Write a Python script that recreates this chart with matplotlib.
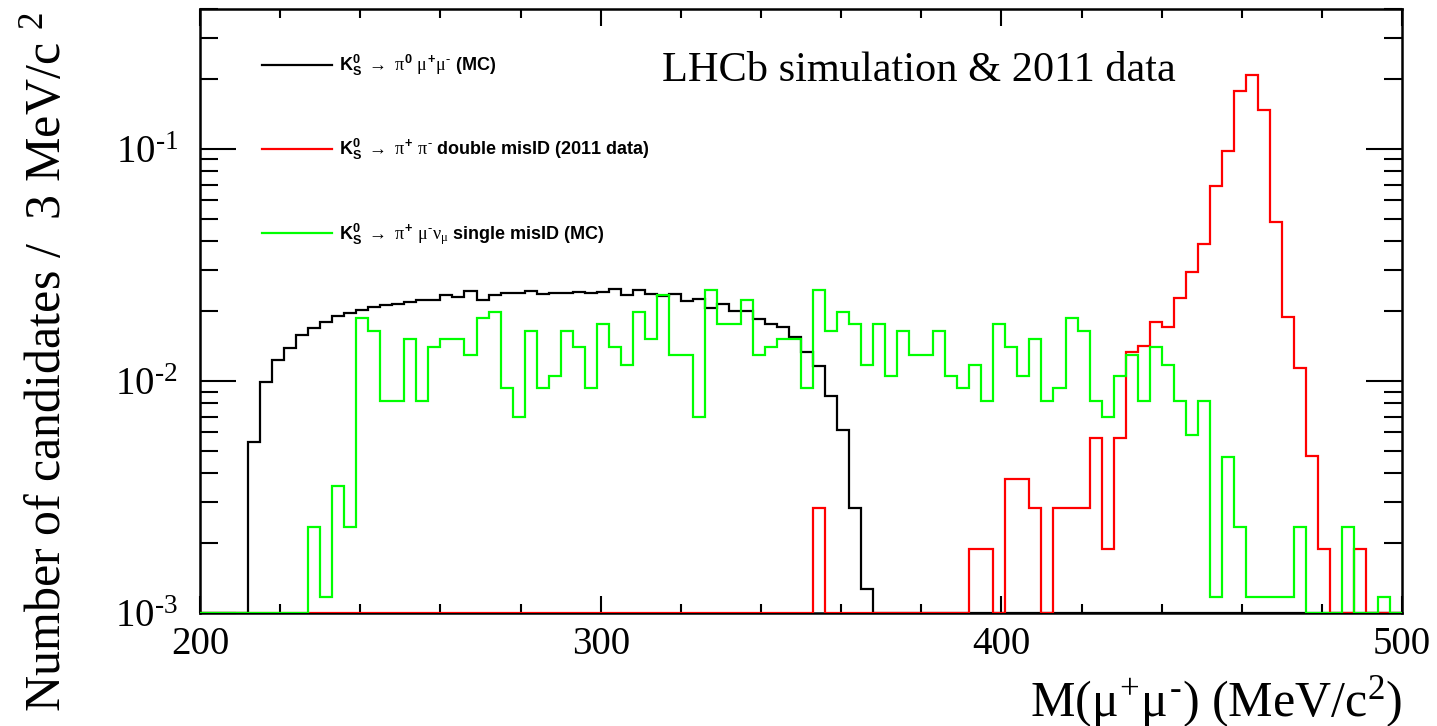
import numpy as np
import matplotlib
matplotlib.use('Agg')
from matplotlib.figure import Figure
from matplotlib.ticker import (FixedLocator, LogLocator, NullFormatter,
                               MultipleLocator, FuncFormatter)

# 3 MeV bins from 200 to 500 MeV/c^2
bin_edges = np.arange(200, 503, 3)
x_major = [200, 300, 400, 500]

# K0S -> pi0 mu+ mu- (MC)
k0_pi0mumu = [
    0, 0, 0, 0, 0.00545, 0.0099, 0.0123, 0.0139, 0.0157, 0.0169,
    0.0180, 0.0191, 0.0197, 0.0203, 0.0208, 0.0212, 0.0214, 0.0219, 0.0224, 0.0222,
    0.0235, 0.0230, 0.0244, 0.0224, 0.0235, 0.0240, 0.0239, 0.0245, 0.0237, 0.0239,
    0.0240, 0.0242, 0.0239, 0.0242, 0.0249, 0.0235, 0.0247, 0.0237, 0.0233, 0.0237,
    0.0221, 0.0225, 0.0207, 0.0215, 0.0201, 0.0201, 0.0185, 0.0176, 0.0171, 0.0155,
    0.0133, 0.0116, 0.00858, 0.00615, 0.00284, 0.00127, 0, 0, 0, 0,
    0, 0, 0, 0, 0, 0, 0, 0, 0, 0,
    0, 0, 0, 0, 0, 0, 0, 0, 0, 0,
    0, 0, 0, 0, 0, 0, 0, 0, 0, 0,
    0, 0, 0, 0, 0, 0, 0, 0, 0, 0,
]

# K0S -> pi+ pi- double misID (2011 data)
k0_pipi = [
    0, 0, 0, 0, 0, 0, 0, 0, 0, 0,
    0, 0, 0, 0, 0, 0, 0, 0, 0, 0,
    0, 0, 0, 0, 0, 0, 0, 0, 0, 0,
    0, 0, 0, 0, 0, 0, 0, 0, 0, 0,
    0, 0, 0, 0, 0, 0, 0, 0, 0, 0,
    0, 0.00284, 0, 0, 0, 0, 0, 0, 0, 0,
    0, 0, 0, 0, 0.00189, 0.00189, 0, 0.00379, 0.00379, 0.00284,
    0, 0.00284, 0.00284, 0.00284, 0.00568, 0.00189, 0.00568, 0.01326, 0.0142, 0.0180,
    0.01705, 0.0227, 0.0294, 0.0388, 0.0691, 0.0975, 0.178, 0.207, 0.147, 0.0483,
    0.0189, 0.01136, 0.00473, 0.00189, 0, 0, 0.00189, 0, 0, 0,
]

# K0S -> pi+ mu- nu single misID (MC)
k0_pimunu = [
    0, 0, 0, 0, 0, 0, 0, 0, 0, 0.00234,
    0.00117, 0.00351, 0.00234, 0.01872, 0.01638, 0.00819, 0.00819, 0.01521, 0.00819, 0.01404,
    0.01521, 0.01521, 0.01287, 0.01872, 0.01989, 0.00936, 0.00702, 0.01638, 0.00936, 0.01053,
    0.01638, 0.01404, 0.00936, 0.01755, 0.01404, 0.0117, 0.01989, 0.01521, 0.0234, 0.01287,
    0.01287, 0.00702, 0.02457, 0.01755, 0.01755, 0.02223, 0.01287, 0.01404, 0.01521, 0.01521,
    0.00936, 0.02457, 0.01638, 0.01989, 0.01755, 0.0117, 0.01755, 0.01053, 0.01638, 0.01287,
    0.01287, 0.01638, 0.01053, 0.00936, 0.0117, 0.00819, 0.01755, 0.01404, 0.01053, 0.01521,
    0.00819, 0.00936, 0.01872, 0.01638, 0.00819, 0.00702, 0.01053, 0.01287, 0.00819, 0.01404,
    0.0117, 0.00819, 0.00585, 0.00819, 0.00117, 0.00468, 0.00234, 0.00117, 0.00117, 0.00117,
    0.00117, 0.00234, 0, 0, 0, 0.00234, 0, 0, 0.00117, 0,
]

labels = [
    r"$\mathbf{K^0_S}$ $\rightarrow$ $\pi^{\mathbf{0}}$ $\mu^{\mathbf{+}}\mu^{\text{-}}$ (MC)",
    r"$\mathbf{K^0_S}$ $\rightarrow$ $\pi^{\mathbf{+}}$ $\pi^{\text{-}}$ double misID (2011 data)",
    r"$\mathbf{K^0_S}$ $\rightarrow$ $\pi^{\mathbf{+}}$ $\mu^{\text{-}}\nu_{\mu}$ single misID (MC)",
]
colors = ['black', '#ff0000', '#00ff00']

Y_MIN = 1e-3
Y_MAX = 0.4

matplotlib.rcParams['font.family'] = 'Liberation Serif'
matplotlib.rcParams['mathtext.fontset'] = 'custom'
matplotlib.rcParams['mathtext.rm'] = 'Liberation Serif'
matplotlib.rcParams['mathtext.it'] = 'Liberation Serif'
matplotlib.rcParams['mathtext.bf'] = 'Liberation Sans:bold'


def root_log_label(val, pos):
    # ROOT style 10^-n with a short dash
    expo = int(round(np.log10(val)))
    if expo < 0:
        return r'$10^{\text{-}%d}$' % (-expo)
    return r'$10^{%d}$' % expo


def make_plot():
    fig = Figure(figsize=(14.37, 7.26), dpi=100)
    ax = fig.add_axes([0.1392, 0.1556, 0.8365, 0.8320])

    series = [k0_pi0mumu, k0_pipi, k0_pimunu]
    for i, (vals, col, lab) in enumerate(zip(series, colors, labels)):
        vals = np.asarray(vals, dtype=float)
        # empty bins sit on the lower edge of the frame, like ROOT does
        shown = np.where(vals > 0, vals, Y_MIN)
        ax.stairs(shown, bin_edges, baseline=None, color=col, lw=1.6,
                  label=lab, zorder=2 + i)

    ax.set_yscale('log')
    ax.set_xlim(200, 500)
    ax.set_ylim(Y_MIN, Y_MAX)

    ax.xaxis.set_major_locator(FixedLocator(x_major))
    ax.xaxis.set_minor_locator(MultipleLocator(20))
    ax.yaxis.set_major_locator(LogLocator(base=10, numticks=10))
    ax.yaxis.set_major_formatter(FuncFormatter(root_log_label))
    ax.yaxis.set_minor_locator(LogLocator(base=10, subs=np.arange(2, 10), numticks=20))
    ax.yaxis.set_minor_formatter(NullFormatter())

    ax.tick_params(which='both', direction='in', top=True, right=True,
                   width=1.5, labelsize=28)
    ax.tick_params(axis='x', which='major', length=12.5, pad=9)
    ax.tick_params(axis='x', which='minor', length=6.5)
    ax.tick_params(axis='y', which='major', length=26, pad=16)
    ax.tick_params(axis='y', which='minor', length=13)
    for sp in ax.spines.values():
        sp.set_linewidth(1.8)

    ax.legend(loc='upper left', bbox_to_anchor=(0.0516, 0.9265), frameon=False,
              borderpad=0, borderaxespad=0, handlelength=3.9,
              handletextpad=0.35, labelspacing=3.25,
              prop={'family': 'Liberation Sans', 'weight': 'bold', 'size': 13})

    ax.text(0.384, (613 - 81) / 604, 'LHCb simulation & 2011 data',
            transform=ax.transAxes, fontsize=30.5, ha='left', va='baseline')

    fig.text(48 / 1437, 1 - 362 / 726, r'Number of candidates /  3 MeV/c $^{2}$',
             rotation=90, ha='center', va='center', fontsize=36)
    fig.text(1402 / 1437, 1 - 716 / 726, r'M($\mu^{+}\mu^{\text{-}}$) (MeV/c$^{2}$)',
             ha='right', va='baseline', fontsize=36)

    fig.savefig('out.png', dpi=100)


def main():
    make_plot()


if __name__ == '__main__':
    main()
